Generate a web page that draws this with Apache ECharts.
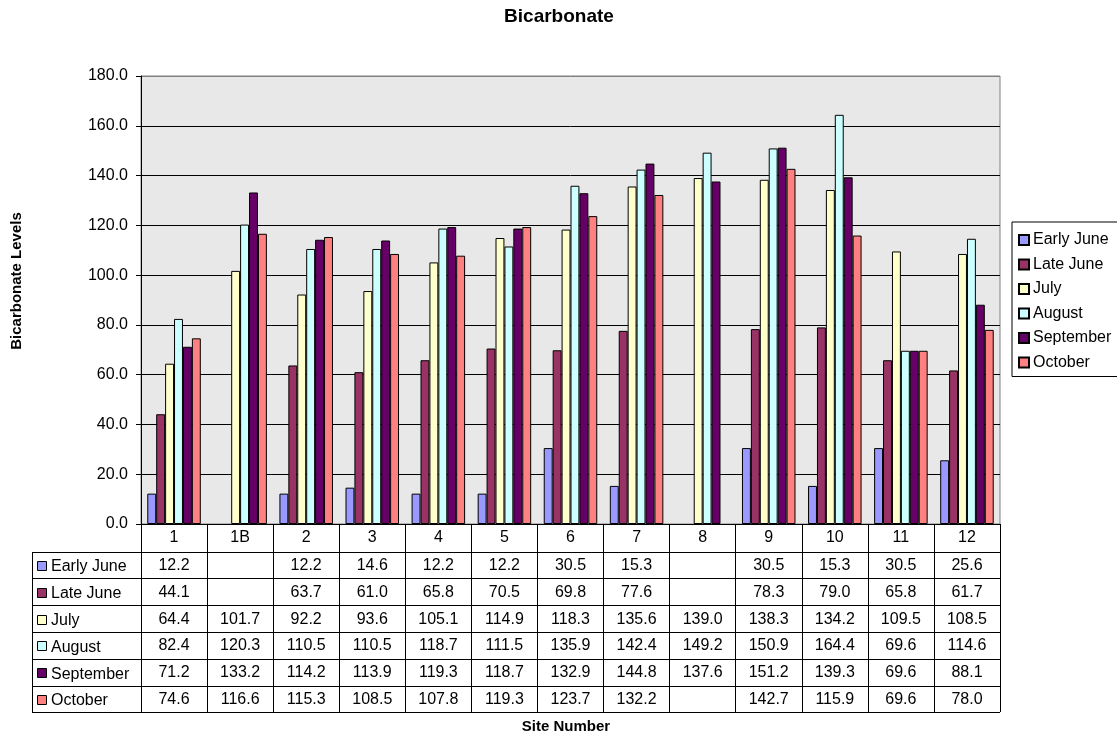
<!DOCTYPE html>
<html>
<head>
<meta charset="utf-8">
<script src="https://cdn.jsdelivr.net/npm/echarts@6/dist/echarts.min.js"></script>
<style>
html,body{margin:0;padding:0;background:#fff;}
#chart{width:1117px;height:736px;}
</style>
</head>
<body>
<div id="chart"></div>
<script>
const categories = ['1','1B','2','3','4','5','6','7','8','9','10','11','12'];
const seriesNames = ['Early June','Late June','July','August','September','October'];
const earlyJune = [12.2, null, 12.2, 14.6, 12.2, 12.2, 30.5, 15.3, null, 30.5, 15.3, 30.5, 25.6];
const lateJune  = [44.1, null, 63.7, 61.0, 65.8, 70.5, 69.8, 77.6, null, 78.3, 79.0, 65.8, 61.7];
const july      = [64.4, 101.7, 92.2, 93.6, 105.1, 114.9, 118.3, 135.6, 139.0, 138.3, 134.2, 109.5, 108.5];
const august    = [82.4, 120.3, 110.5, 110.5, 118.7, 111.5, 135.9, 142.4, 149.2, 150.9, 164.4, 69.6, 114.6];
const september = [71.2, 133.2, 114.2, 113.9, 119.3, 118.7, 132.9, 144.8, 137.6, 151.2, 139.3, 69.6, 88.1];
const october   = [74.6, 116.6, 115.3, 108.5, 107.8, 119.3, 123.7, 132.2, null, 142.7, 115.9, 69.6, 78.0];
const yTicks = [0, 20, 40, 60, 80, 100, 120, 140, 160, 180];

const allData = [earlyJune, lateJune, july, august, september, october];
const colors = ['#9999FF', '#993366', '#FFFFCC', '#CCFFFF', '#660066', '#FF8080'];
const FONT = '"Liberation Sans", Arial, sans-serif';
const FS = 16;

// layout
const G_LEFT = 141, G_TOP = 76, G_RIGHT_X = 1000, G_BOTTOM_Y = 524;
const TABLE_LEFT = 32;
const CAT_ROW_BOTTOM = 551.7;
const ROW_H = 26.77;
const TABLE_BOTTOM = CAT_ROW_BOTTOM + ROW_H * 6;

const chart = echarts.init(document.getElementById('chart'), null, {renderer: 'canvas'});

const series = seriesNames.map((n, i) => ({
  name: n,
  type: 'bar',
  data: allData[i],
  barGap: '0%',
  barCategoryGap: '19%',
  itemStyle: { color: colors[i], borderColor: '#000', borderWidth: 1 },
  emphasis: { disabled: true }
}));

const graphics = [];
const colW = (G_RIGHT_X - G_LEFT) / categories.length;
// horizontal table lines
for (let r = 0; r <= 6; r++) {
  const y = Math.round(CAT_ROW_BOTTOM + r * ROW_H) + 0.5;
  graphics.push({ type: 'line', shape: { x1: TABLE_LEFT, y1: y, x2: G_RIGHT_X, y2: y }, style: { stroke: '#000', lineWidth: 1 }, silent: true });
}
// left border of table
graphics.push({ type: 'line', shape: { x1: TABLE_LEFT + 0.5, y1: Math.round(CAT_ROW_BOTTOM) + 0.5, x2: TABLE_LEFT + 0.5, y2: Math.round(TABLE_BOTTOM) + 0.5 }, style: { stroke: '#000', lineWidth: 1 }, silent: true });
// row headers and cells
for (let r = 0; r < 6; r++) {
  const cy = CAT_ROW_BOTTOM + (r + 0.5) * ROW_H;
  graphics.push({ type: 'rect', shape: { x: 37.5, y: Math.round(cy - 4) + 0.5, width: 9, height: 9 }, style: { fill: colors[r], stroke: '#000', lineWidth: 1 }, silent: true });
  graphics.push({ type: 'text', x: 51, y: cy + 2, style: { text: seriesNames[r], font: FS + 'px ' + FONT, fill: '#000', textVerticalAlign: 'middle', textAlign: 'left' }, silent: true });
  allData[r].forEach((v, c) => {
    if (v === null) return;
    const cx = G_LEFT + (c + 0.5) * colW;
    graphics.push({ type: 'text', x: cx, y: cy + 0.5, style: { text: v.toFixed(1), font: FS + 'px ' + FONT, fill: '#000', textVerticalAlign: 'middle', textAlign: 'center' }, silent: true });
  });
}
// titles
graphics.push({ type: 'text', x: 559, y: 17, style: { text: 'Bicarbonate', font: 'bold 19px ' + FONT, fill: '#000', textAlign: 'center', textVerticalAlign: 'middle' }, silent: true });
graphics.push({ type: 'text', x: 566, y: 727, style: { text: 'Site Number', font: 'bold 15px ' + FONT, fill: '#000', textAlign: 'center', textVerticalAlign: 'middle' }, silent: true });
graphics.push({ type: 'text', x: 17, y: 281, rotation: Math.PI / 2, style: { text: 'Bicarbonate Levels', font: 'bold 15px ' + FONT, fill: '#000', textAlign: 'center', textVerticalAlign: 'middle' }, silent: true });

const splitColors = yTicks.map((t, i) => i === yTicks.length - 1 ? '#808080' : '#000');

chart.setOption({
  animation: false,
  backgroundColor: '#fff',
  textStyle: { fontFamily: FONT },
  grid: {
    left: G_LEFT, top: G_TOP, width: G_RIGHT_X - G_LEFT, height: G_BOTTOM_Y - G_TOP,
    show: true, backgroundColor: '#E8E8E8', borderColor: '#808080', borderWidth: 1
  },
  legend: {
    orient: 'vertical',
    left: 1012, top: 222,
    itemWidth: 10, itemHeight: 10, itemGap: 8.5,
    icon: 'rect',
    padding: [10, 40, 6, 6],
    borderColor: '#000', borderWidth: 1,
    backgroundColor: '#fff',
    textStyle: { fontSize: FS, color: '#000', fontFamily: FONT, padding: [0, 0, 0, -1] },
    selectedMode: false
  },
  xAxis: {
    type: 'category',
    data: categories,
    axisLine: { show: true, lineStyle: { color: '#000', width: 1 } },
    axisTick: { show: true, inside: false, length: Math.round(TABLE_BOTTOM - G_BOTTOM_Y), lineStyle: { color: '#000', width: 1 } },
    axisLabel: { color: '#000', fontSize: FS, margin: 6, fontFamily: FONT },
    splitLine: { show: false }
  },
  yAxis: {
    type: 'value',
    min: 0, max: 180, interval: 20,
    axisLine: { show: true, lineStyle: { color: '#000', width: 1 } },
    axisTick: { show: true, length: 5, lineStyle: { color: '#000' } },
    axisLabel: { color: '#000', fontSize: FS, margin: 13, fontFamily: FONT, formatter: v => v.toFixed(1) },
    splitLine: { show: true, lineStyle: { color: splitColors, width: 1 } }
  },
  series: series,
  graphic: graphics
});
</script>
</body>
</html>
